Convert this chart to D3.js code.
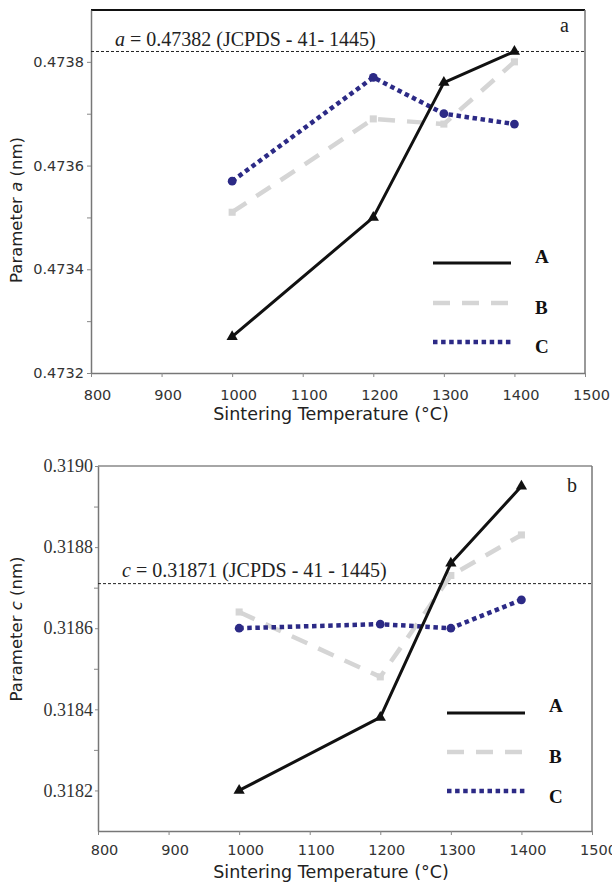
<!DOCTYPE html>
<html>
<head>
<meta charset="utf-8">
<script src="https://cdn.jsdelivr.net/npm/d3@7"></script>
<style>
  body { margin: 0; background: #fff; }
  svg { display: block; }
</style>
</head>
<body>
<svg id="chart" width="612" height="885"></svg>
<script>
// shared x values
const temps = [1000, 1200, 1300, 1400];
const xTicks = [800, 900, 1000, 1100, 1200, 1300, 1400, 1500];
const seriesNames = ["A", "B", "C"];

// panel a: lattice parameter a (nm)
const aA = [0.47327, 0.47350, 0.47376, 0.47382];
const aB = [0.47351, 0.47369, 0.47368, 0.47380];
const aC = [0.47357, 0.47377, 0.47370, 0.47368];
const aTicks = [0.4732, 0.4734, 0.4736, 0.4738];
const aMinor = [0.4733, 0.4735, 0.4737];
const aRef = 0.47382;

// panel b: lattice parameter c (nm)
const cA = [0.31820, 0.31838, 0.31876, 0.31895];
const cB = [0.31864, 0.31848, 0.31873, 0.31883];
const cC = [0.31860, 0.31861, 0.31860, 0.31867];
const cTicks = [0.3182, 0.3184, 0.3186, 0.3188, 0.3190];
const cMinor = [0.3183, 0.3185, 0.3187, 0.3189];
const cRef = 0.31871;

const styles = {
  A: { color: '#111', width: 3, dash: null, marker: 'triangle' },
  B: { color: '#d5d5d5', width: 4.5, dash: '17,12', marker: 'square' },
  C: { color: '#2c2a86', width: 4.5, dash: '4.5,3.6', marker: 'circle' }
};

const SANS = '"DejaVu Sans", Verdana, sans-serif';
const SERIF = '"Liberation Serif", "Times New Roman", serif';

const svg = d3.select('#chart');

function drawPanel(p) {
  const x = d3.scaleLinear().domain([800, 1500]).range([p.left, p.right]);
  const y = d3.scaleLinear().domain(p.yDomain).range([p.bottom, p.top]);
  const g = svg.append('g');

  // frame (top and right)
  g.append('line').attr('x1', p.left).attr('x2', p.right).attr('y1', p.top).attr('y2', p.top)
    .attr('stroke', p.topColor).attr('stroke-width', p.topWidth);
  g.append('line').attr('x1', p.right).attr('x2', p.right).attr('y1', p.top).attr('y2', p.bottom)
    .attr('stroke', '#777').attr('stroke-width', 1.5);

  // x axis
  const xa = g.append('g').attr('transform', `translate(0,${p.bottom})`)
    .call(d3.axisBottom(x).tickValues(xTicks).tickFormat(d3.format('d'))
      .tickSize(4).tickSizeOuter(0).tickPadding(p.xPad));
  xa.selectAll('text').attr('dx', 6).style('font', `14.5px ${SANS}`).attr('fill', '#333');

  // y axis
  const ya = g.append('g').attr('transform', `translate(${p.left},0)`)
    .call(d3.axisLeft(y).tickValues(p.yTicks).tickFormat(d3.format('.4f'))
      .tickSize(p.ySize).tickSizeOuter(0).tickPadding(p.yPad));
  ya.selectAll('text').style('font', p.yFont).attr('fill', '#333');
  g.append('g').attr('transform', `translate(${p.left},0)`)
    .call(d3.axisLeft(y).tickValues(p.yMinor).tickFormat('').tickSize(4).tickSizeOuter(0))
    .select('.domain').remove();

  [xa, ya].forEach(a => {
    a.select('.domain').attr('stroke', '#777').attr('stroke-width', 1.5);
    a.selectAll('.tick line').attr('stroke', '#777');
  });
  g.selectAll('.tick line').attr('stroke', '#888');

  // reference line
  g.append('line').attr('x1', p.left).attr('x2', p.right)
    .attr('y1', y(p.ref)).attr('y2', y(p.ref))
    .attr('stroke', '#222').attr('stroke-width', 1).attr('stroke-dasharray', '3,2');
  const note = g.append('text').attr('x', p.noteX).attr('y', y(p.ref) - p.noteGap)
    .style('font', `20px ${SERIF}`).attr('fill', '#222');
  note.append('tspan').style('font-style', 'italic').text(p.param);
  note.append('tspan').text(p.noteText);

  // series
  const line = d3.line().x((d, i) => x(temps[i])).y(d => y(d));
  ['B', 'C', 'A'].forEach(name => {
    const s = styles[name];
    const vals = p.series[name];
    g.append('path').datum(vals).attr('d', line).attr('fill', 'none')
      .attr('stroke', s.color).attr('stroke-width', s.width)
      .attr('stroke-dasharray', s.dash).attr('stroke-linejoin', 'round');
    const sym = s.marker === 'triangle' ? d3.symbolTriangle
      : s.marker === 'square' ? d3.symbolSquare : d3.symbolCircle;
    const size = s.marker === 'triangle' ? 55 : s.marker === 'square' ? 50 : 60;
    g.selectAll(null).data(vals).enter().append('path')
      .attr('d', d3.symbol().type(sym).size(size))
      .attr('transform', (d, i) => `translate(${x(temps[i])},${y(d)})`)
      .attr('fill', s.color);
  });

  // legend
  seriesNames.forEach((name, i) => {
    const s = styles[name];
    const ly = p.legendY[i];
    g.append('line').attr('x1', p.legendX).attr('x2', p.legendX + 78)
      .attr('y1', ly).attr('y2', ly)
      .attr('stroke', s.color).attr('stroke-width', s.width)
      .attr('stroke-dasharray', s.dash);
    g.append('text').attr('x', p.legendX + 102).attr('y', ly + p.letterDy[i])
      .style('font', `bold 19px ${SERIF}`).attr('fill', '#111').text(name);
  });

  // panel letter
  g.append('text').attr('x', p.right - 25).attr('y', p.top + p.letterY)
    .style('font', `20px ${SERIF}`).attr('fill', '#222').text(p.panel);

  // axis titles
  g.append('text').attr('x', 331).attr('y', p.bottom + 47).attr('text-anchor', 'middle')
    .style('font', `17.5px ${SANS}`).attr('fill', '#222')
    .text('Sintering Temperature (°C)');
  const yt = g.append('text').attr('transform', `translate(22,${p.yTitleY}) rotate(-90)`)
    .attr('text-anchor', 'middle').style('font', `16.5px ${SANS}`).attr('fill', '#222');
  yt.append('tspan').text('Parameter ');
  yt.append('tspan').style('font-style', 'italic').text(p.param);
  yt.append('tspan').text(' (nm)');
}

drawPanel({
  left: 91, right: 585, top: 10, bottom: 373,
  yDomain: [0.4732, 0.4739], yTicks: aTicks, yMinor: aMinor,
  ySize: 4, yPad: 3, yFont: `14.5px ${SANS}`, xPad: 13,
  topColor: '#111', topWidth: 2,
  ref: aRef, param: 'a', noteText: ' = 0.47382 (JCPDS - 41- 1445)', noteX: 115, noteGap: 5,
  series: { A: aA, B: aB, C: aC },
  legendX: 433, legendY: [263, 303, 342], letterDy: [0, 11, 11],
  panel: 'a', letterY: 22, yTitleY: 210
});

drawPanel({
  left: 98, right: 592, top: 466, bottom: 831,
  yDomain: [0.3181, 0.3190], yTicks: cTicks, yMinor: cMinor,
  ySize: 3, yPad: 2, yFont: `18px ${SERIF}`, xPad: 10,
  topColor: '#888', topWidth: 1.5,
  ref: cRef, param: 'c', noteText: ' = 0.31871 (JCPDS - 41 - 1445)', noteX: 122, noteGap: 7,
  series: { A: cA, B: cB, C: cC },
  legendX: 447, legendY: [713, 752, 791], letterDy: [-1, 11, 12],
  panel: 'b', letterY: 26, yTitleY: 629
});
</script>
</body>
</html>
